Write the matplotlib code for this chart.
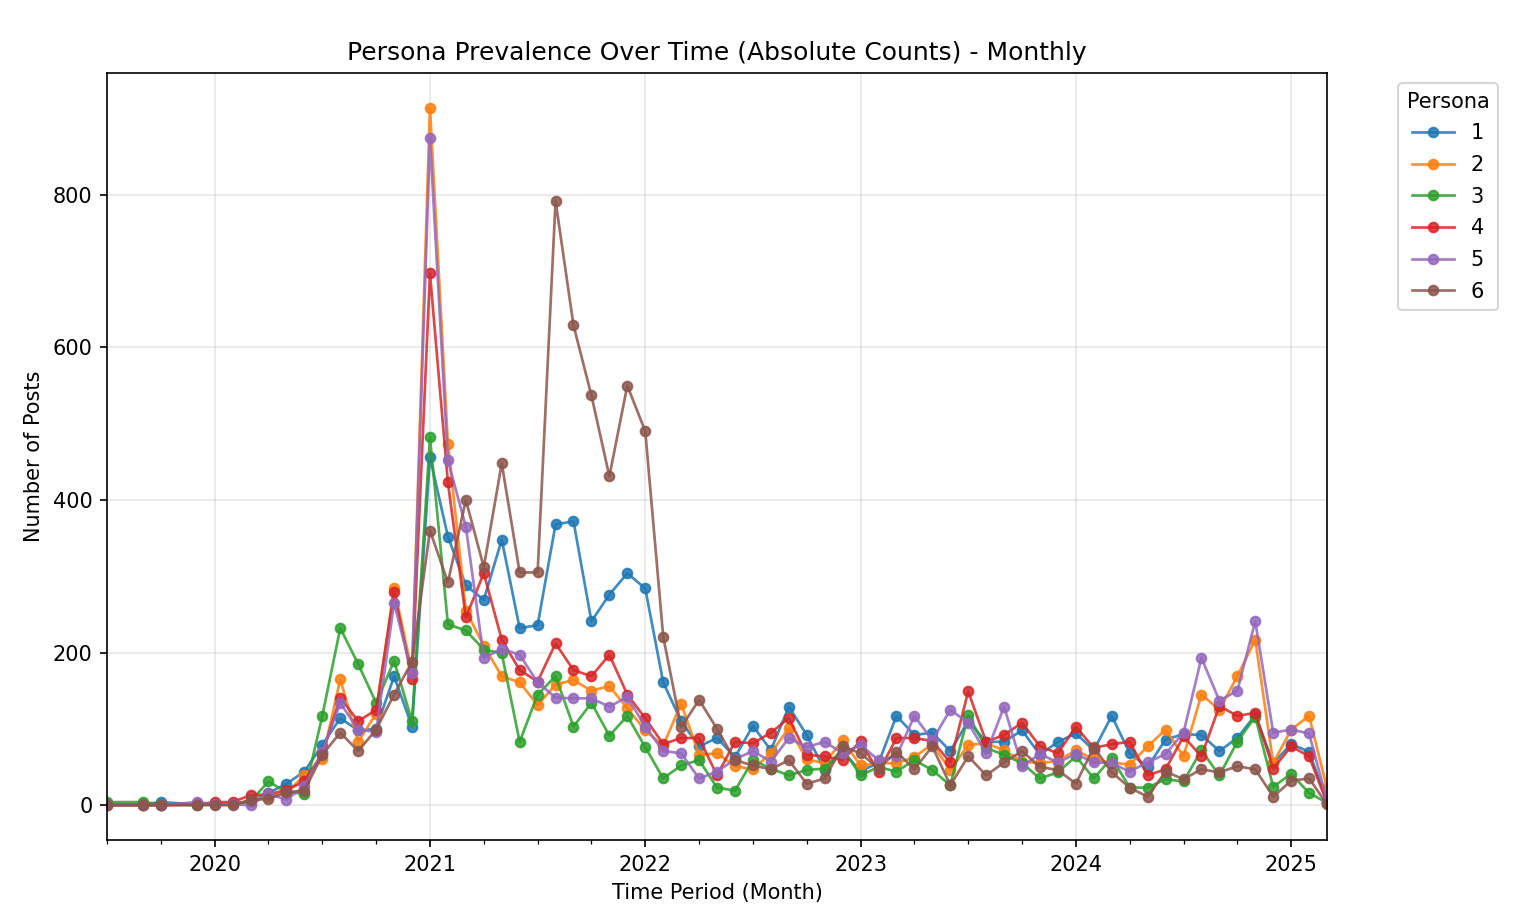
import matplotlib
matplotlib.use("Agg")
import matplotlib.pyplot as plt
from matplotlib.ticker import FixedLocator

months = ["2019-07", "2019-09", "2019-10", "2019-12",
          "2020-01", "2020-02", "2020-03", "2020-04", "2020-05", "2020-06",
          "2020-07", "2020-08", "2020-09", "2020-10", "2020-11", "2020-12",
          "2021-01", "2021-02", "2021-03", "2021-04", "2021-05", "2021-06",
          "2021-07", "2021-08", "2021-09", "2021-10", "2021-11", "2021-12",
          "2022-01", "2022-02", "2022-03", "2022-04", "2022-05", "2022-06",
          "2022-07", "2022-08", "2022-09", "2022-10", "2022-11", "2022-12",
          "2023-01", "2023-02", "2023-03", "2023-04", "2023-05", "2023-06",
          "2023-07", "2023-08", "2023-09", "2023-10", "2023-11", "2023-12",
          "2024-01", "2024-02", "2024-03", "2024-04", "2024-05", "2024-06",
          "2024-07", "2024-08", "2024-09", "2024-10", "2024-11", "2024-12",
          "2025-01", "2025-02", "2025-03"]

persona_1 = [1, 1, 4, 1, 1, 1, 5, 16, 28, 44, 79, 114, 98, 100, 169, 103,
             456, 352, 288, 269, 348, 232, 236, 368, 372, 241, 276, 304,
             284, 161, 110, 77, 88, 63, 104, 72, 129, 92, 46, 70,
             45, 55, 117, 92, 95, 71, 110, 83, 83, 98, 66, 83,
             94, 72, 117, 68, 50, 86, 93, 92, 71, 88, 118, 55,
             80, 70, 5]
persona_2 = [0, 0, 0, 1, 2, 1, 6, 12, 16, 39, 60, 165, 83, 120, 285, 175,
             914, 474, 255, 209, 169, 161, 131, 158, 164, 150, 156, 127,
             98, 78, 133, 66, 68, 51, 47, 68, 101, 60, 55, 85,
             52, 55, 55, 63, 80, 46, 79, 81, 72, 57, 55, 58,
             72, 60, 56, 53, 77, 99, 64, 145, 125, 169, 217, 55,
             99, 117, 22]
persona_3 = [4, 4, 1, 0, 1, 1, 5, 31, 17, 15, 117, 232, 185, 134, 189, 110,
             482, 237, 229, 204, 199, 83, 145, 169, 103, 134, 91, 117,
             76, 35, 52, 59, 23, 19, 59, 48, 39, 46, 48, 74,
             39, 50, 44, 59, 46, 26, 118, 75, 66, 55, 35, 43,
             64, 35, 62, 23, 23, 34, 31, 72, 39, 83, 116, 24,
             41, 16, 3]
persona_4 = [0, 0, 0, 1, 4, 4, 13, 14, 20, 31, 68, 141, 110, 125, 280, 165,
             697, 423, 246, 304, 217, 177, 162, 212, 177, 169, 197, 145,
             114, 80, 88, 88, 39, 83, 81, 95, 114, 66, 64, 59,
             84, 43, 88, 88, 84, 56, 149, 83, 92, 108, 77, 68,
             103, 75, 80, 83, 39, 47, 90, 64, 130, 117, 121, 48,
             77, 64, 3]
persona_5 = [0, 0, 0, 4, 1, 1, 0, 15, 7, 25, 70, 134, 99, 96, 265, 173,
             874, 452, 365, 193, 205, 197, 161, 141, 140, 140, 129, 142,
             103, 71, 68, 35, 44, 60, 71, 57, 88, 76, 83, 68,
             79, 59, 64, 117, 85, 125, 108, 68, 129, 51, 67, 56,
             67, 56, 55, 44, 56, 67, 95, 193, 137, 150, 241, 95,
             99, 94, 6]
persona_6 = [0, 0, 0, 0, 0, 0, 7, 8, 17, 19, 66, 95, 71, 99, 145, 188,
             360, 292, 400, 312, 448, 305, 305, 792, 629, 537, 431, 550,
             490, 221, 102, 138, 100, 59, 52, 47, 59, 28, 35, 77,
             68, 48, 70, 47, 77, 26, 64, 39, 56, 71, 50, 46,
             28, 76, 43, 23, 11, 44, 34, 47, 43, 51, 47, 11,
             32, 35, 1]

series = {"1": persona_1, "2": persona_2, "3": persona_3,
          "4": persona_4, "5": persona_5, "6": persona_6}
colors = ["#1f77b4", "#ff7f0e", "#2ca02c", "#d62728", "#9467bd", "#8c564b"]

start_year, start_month = 2019, 7


def month_pos(m):
    y, mo = int(m[:4]), int(m[5:7])
    return (y - start_year) * 12 + (mo - start_month)


x = [month_pos(m) for m in months]

fig = plt.figure(figsize=(10.12, 6.16), dpi=150)
ax = fig.add_axes([0.0705, 0.0909, 0.8037, 0.8301])

for (name, vals), c in zip(series.items(), colors):
    ax.plot(x, vals, marker="o", markersize=4.6, linewidth=1.3, color=c,
            alpha=0.85, label=name)

ax.set_xlim(x[0], x[-1])
years = list(range(2020, 2026))
major = [month_pos(f"{y}-01") for y in years]
minor = [p for p in range(x[0], x[-1] + 1)
         if (p + start_month - 1) % 3 == 0 and p not in major]
ax.xaxis.set_major_locator(FixedLocator(major))
ax.xaxis.set_minor_locator(FixedLocator(minor))
ax.set_xticklabels([str(y) for y in years])

ax.grid(True, alpha=0.3)
ax.set_title("Persona Prevalence Over Time (Absolute Counts) - Monthly")
ax.set_xlabel("Time Period (Month)")
ax.set_ylabel("Number of Posts")
ax.legend(title="Persona", bbox_to_anchor=(1.05, 1), loc="upper left",
          labelspacing=0.56)

fig.savefig("out.png", dpi=150)
